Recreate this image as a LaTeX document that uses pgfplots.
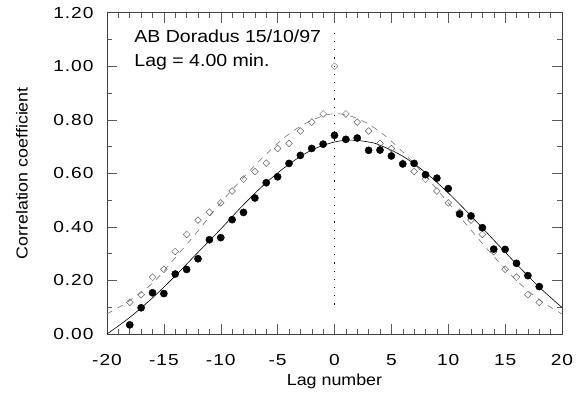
\documentclass[border=0pt]{standalone}
\usepackage{fontspec}
\setmainfont{Liberation Sans}[FakeStretch=1.12]
\newfontfamily\tickfont{Liberation Sans}[FakeStretch=1.2,LetterSpace=6]
\usepackage{pgfplots}
\usepackage{pgfplotstable}
\pgfplotsset{compat=1.18}

\pgfplotstableread{
lag r
-18 0.034
-17 0.098
-16 0.154
-15 0.151
-14 0.224
-13 0.241
-12 0.281
-11 0.352
-10 0.360
-9 0.427
-8 0.454
-7 0.508
-6 0.565
-5 0.587
-4 0.637
-3 0.667
-2 0.693
-1 0.709
0 0.742
1 0.727
2 0.732
3 0.686
4 0.687
5 0.665
6 0.635
7 0.637
8 0.595
9 0.582
10 0.543
11 0.448
12 0.441
13 0.397
14 0.317
15 0.316
16 0.264
17 0.218
18 0.177
}\filled

\pgfplotstableread{
lag r
-18 0.118
-17 0.147
-16 0.212
-15 0.242
-14 0.308
-13 0.372
-12 0.425
-11 0.455
-10 0.490
-9 0.534
-8 0.578
-7 0.607
-6 0.638
-5 0.693
-4 0.712
-3 0.758
-2 0.791
-1 0.822
0 1.000
1 0.822
2 0.791
3 0.758
4 0.712
5 0.693
6 0.638
7 0.607
8 0.578
9 0.534
10 0.490
11 0.455
12 0.425
13 0.372
14 0.308
15 0.242
16 0.212
17 0.147
18 0.118
}\diamonds

\pgfplotstableread{
lag r
-20 0.000
-18 0.062
-16 0.135
-14 0.217
-12 0.305
-10 0.392
-8 0.483
-6 0.565
-4 0.634
-2 0.687
0 0.717
1.5 0.724
3 0.717
4 0.705
6 0.664
8 0.603
10 0.527
12 0.441
14 0.351
16 0.261
18 0.175
20 0.099
}\solidfit

\pgfplotstableread{
lag r
-20 0.075
-18 0.125
-16 0.190
-14 0.285
-12 0.385
-10 0.490
-8 0.585
-6 0.672
-4 0.747
-2 0.798
0 0.823
2 0.805
4 0.755
6 0.680
8 0.590
10 0.490
12 0.388
14 0.290
16 0.200
18 0.128
20 0.075
}\dashedfit

\begin{document}
\begin{tikzpicture}
\begin{axis}[
  width=455bp, height=321.3bp, scale only axis,
  xmin=-20, xmax=20, ymin=0, ymax=1.2,
  xtick={-20,-15,-10,-5,0,5,10,15,20},
  ytick={0,0.2,0.4,0.6,0.8,1.0,1.2},
  minor x tick num=4, minor y tick num=1,
  tick align=inside,
  major tick length=10bp, minor tick length=5bp,
  tick style={black!65, line width=0.5pt},
  axis line style={black!75, line width=0.7pt},
  /pgf/number format/assume math mode=true,
  yticklabel style={/pgf/number format/fixed, /pgf/number format/fixed zerofill, /pgf/number format/precision=2, xshift=-10bp},
  ticklabel style={font=\tickfont\fontsize{16}{19}\selectfont},
  xticklabel style={yshift=-17bp},
  xlabel={Lag number}, ylabel={Correlation coefficient},
  label style={font=\fontsize{16}{19}\selectfont},
  xlabel style={at={(axis description cs:0.5,-0.147)}, anchor=center},
  ylabel style={at={(axis description cs:-0.187,0.5)}, anchor=center},
  clip=true,
]
\addplot[black, dash pattern=on 1.2bp off 7bp, line width=0.7pt] coordinates {(0,0.11) (0,1.15)};
\addplot[black!55, line width=0.6pt, dash pattern=on 6bp off 6bp, smooth, tension=0.6] table[x=lag,y=r] {\dashedfit};
\addplot[black, line width=0.6pt, smooth, tension=0.6] table[x=lag,y=r] {\solidfit};
\addplot[only marks, mark=square, mark size=2.4bp, mark options={rotate=45, draw=black!60, line width=0.5pt, fill=white}] table[x=lag,y=r] {\diamonds};
\addplot[only marks, mark=*, mark size=3.6bp, mark options={draw=black, fill=black}] table[x=lag,y=r] {\filled};
\node[anchor=west, font=\fontsize{17.5}{20}\selectfont] at (axis cs:-17.9,1.113) {AB Doradus 15/10/97};
\node[anchor=west, font=\fontsize{17.5}{20}\selectfont] at (axis cs:-17.9,1.016) {Lag = 4.00 min.};
\end{axis}
\pgfresetboundingbox
\path ([shift={(-107bp,-59bp)}]current axis.south west) rectangle ([shift={(23bp,12.7bp)}]current axis.north east);
\end{tikzpicture}
\end{document}
